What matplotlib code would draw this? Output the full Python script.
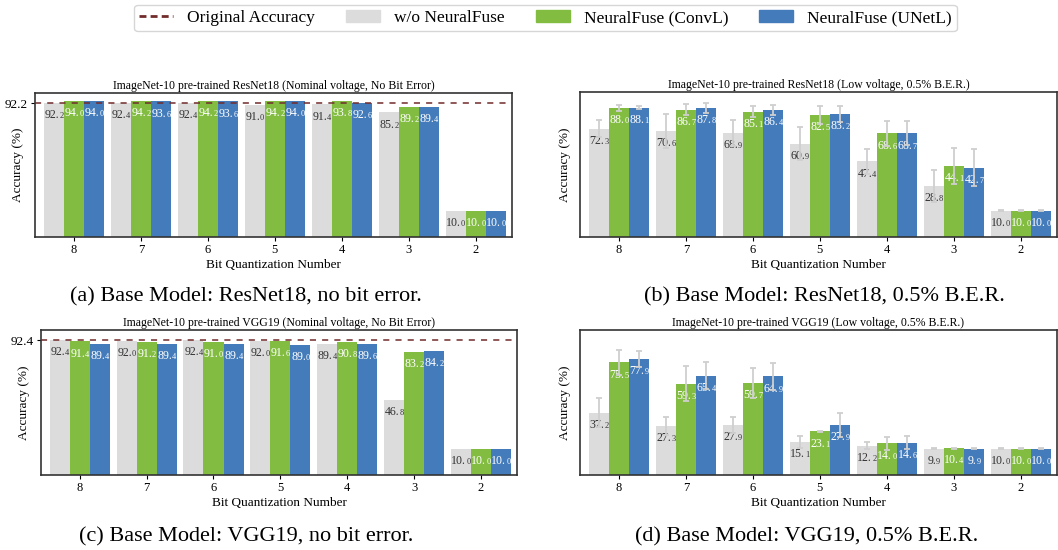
import matplotlib
matplotlib.use("Agg")
import matplotlib.pyplot as plt
import numpy as np
from matplotlib.lines import Line2D
from matplotlib.patches import Patch

plt.rcParams['font.family'] = ['Liberation Serif', 'DejaVu Serif']

bits = ['8', '7', '6', '5', '4', '3', '2']

# (a) ResNet18, nominal voltage
a_wo = [92.2, 92.4, 92.4, 91.0, 91.4, 85.2, 10.0]
a_conv = [94.0, 94.2, 94.2, 94.2, 93.8, 89.2, 10.0]
a_unet = [94.0, 93.6, 93.6, 94.0, 92.6, 89.4, 10.0]
a_orig = 92.2

# (b) ResNet18, 0.5% B.E.R.
b_wo = [72.3, 70.6, 68.9, 60.9, 47.4, 28.8, 10.0]
b_conv = [88.0, 86.7, 85.1, 82.5, 68.6, 44.1, 10.0]
b_unet = [88.1, 87.8, 86.4, 83.2, 68.7, 42.7, 10.0]
b_wo_err = [6.5, 13.0, 10.0, 12.5, 9.5, 12.0, 0.2]
b_conv_err = [2.3, 4.2, 4.3, 7.0, 9.6, 13.6, 0.2]
b_unet_err = [1.3, 3.8, 4.0, 6.0, 9.0, 14.0, 0.2]

# (c) VGG19, nominal voltage
c_wo = [92.4, 92.0, 92.4, 92.0, 89.4, 46.8, 10.0]
c_conv = [91.4, 91.2, 91.0, 91.6, 90.8, 83.2, 10.0]
c_unet = [89.4, 89.4, 89.4, 89.0, 89.6, 84.2, 10.0]
c_orig = 92.4

# (d) VGG19, 0.5% B.E.R.
d_wo = [37.2, 27.3, 27.9, 15.1, 12.2, 9.9, 10.0]
d_conv = [75.5, 59.3, 59.7, 23.1, 14.0, 10.4, 10.0]
d_unet = [77.9, 65.4, 64.9, 27.9, 14.6, 9.9, 10.0]
d_wo_err = [11.0, 6.6, 6.3, 4.3, 2.8, 0.3, 0.2]
d_conv_err = [9.3, 13.4, 11.6, 0.6, 4.8, 0.4, 0.2]
d_unet_err = [5.8, 10.3, 10.3, 8.8, 5.0, 0.4, 0.2]

GRAY = '#dcdcdc'
GREEN = '#82bd41'
BLUE = '#437bbb'
RED = '#722b2b'
YMIN, YMAX = -10, 100
W, H = 1058, 550
FS_MAIN, FS_DEC = 8.6, 6.0


def label_bar(ax, x, v, color):
    # value drawn as "92." plus a smaller last digit, centred on the bar
    s = '%.1f' % v
    main, dec = s[:-1], s[-1]
    main_w = FS_MAIN * 0.5 * (len(main) - 1) + FS_MAIN * 0.25
    dec_w = FS_DEC * 0.5
    off = -(main_w + dec_w) / 2 + main_w
    ax.annotate(main, (x, v), xytext=(off, -11), textcoords='offset points',
                ha='right', va='baseline', fontsize=FS_MAIN, color=color)
    ax.annotate(dec, (x, v), xytext=(off, -11), textcoords='offset points',
                ha='left', va='baseline', fontsize=FS_DEC, color=color)


def draw_panel(rect, title, wo, conv, unet, ylab_x, orig=None, errs=None):
    ax = fig.add_axes([rect[0] / W, 1 - rect[3] / H,
                       (rect[2] - rect[0]) / W, (rect[3] - rect[1]) / H])
    x = np.arange(len(bits))
    bw = 0.3
    series = [(wo, GRAY, -bw, '#333333'), (conv, GREEN, 0, 'white'),
              (unet, BLUE, bw, 'white')]
    for i, (vals, col, dx, tcol) in enumerate(series):
        vals = np.array(vals)
        ax.bar(x + dx, vals - YMIN, bw, bottom=YMIN, color=col, zorder=2)
        if errs is not None:
            ax.errorbar(x + dx, vals, yerr=errs[i], fmt='none', ecolor='#cfcfcf',
                        elinewidth=1.3, capsize=2.5, capthick=1.3, zorder=4)
        for xi, v in zip(x + dx, vals):
            label_bar(ax, xi, v, tcol)
    if orig is not None:
        ax.axhline(orig, color=RED, ls=(0, (4, 4)), lw=1.1, zorder=3)
        ax.set_yticks([orig])
        ax.set_yticklabels(['%.1f' % orig], fontsize=9.5)
    else:
        ax.set_yticks([])
    ax.set_ylim(YMIN, YMAX)
    ax.set_xlim(-0.58, len(bits) - 0.46)
    ax.set_xticks(x)
    ax.set_xticklabels(bits, fontsize=9)
    ax.tick_params(length=3, width=0.8, pad=2)
    ax.set_xlabel('Bit Quantization Number', fontsize=9.5, labelpad=2)
    ax.set_ylabel('Accuracy (%)', fontsize=9.5)
    ax.yaxis.set_label_coords((ylab_x + 6 - rect[0]) / (rect[2] - rect[0]), 0.5)
    ax.set_title(title, fontsize=8.5, pad=3)
    for sp in ax.spines.values():
        sp.set_color('#333333')
        sp.set_linewidth(1.2)
    return ax


fig = plt.figure(figsize=(W / 100, H / 100), dpi=100)

draw_panel((35, 93, 512, 237),
           'ImageNet-10 pre-trained ResNet18 (Nominal voltage, No Bit Error)',
           a_wo, a_conv, a_unet, 18, orig=a_orig)
draw_panel((580, 92, 1057, 237),
           'ImageNet-10 pre-trained ResNet18 (Low voltage, 0.5% B.E.R.)',
           b_wo, b_conv, b_unet, 565, errs=[b_wo_err, b_conv_err, b_unet_err])
draw_panel((41, 330, 517, 475),
           'ImageNet-10 pre-trained VGG19 (Nominal voltage, No Bit Error)',
           c_wo, c_conv, c_unet, 24, orig=c_orig)
draw_panel((580, 330, 1057, 475),
           'ImageNet-10 pre-trained VGG19 (Low voltage, 0.5% B.E.R.)',
           d_wo, d_conv, d_unet, 565, errs=[d_wo_err, d_conv_err, d_unet_err])

captions = [(246, 297, '(a) Base Model: ResNet18, no bit error.'),
            (824, 297, '(b) Base Model: ResNet18, 0.5% B.E.R.'),
            (246, 537, '(c) Base Model: VGG19, no bit error.'),
            (807, 537, '(d) Base Model: VGG19, 0.5% B.E.R.')]
for cx, cy, txt in captions:
    fig.text(cx / W, 1 - cy / H, txt, ha='center', va='center', fontsize=16)

handles = [Line2D([0], [0], color=RED, ls=(0, (2.5, 1.5)), lw=2),
           Patch(color=GRAY), Patch(color=GREEN), Patch(color=BLUE)]
labels = ['Original Accuracy', 'w/o NeuralFuse', 'NeuralFuse (ConvL)',
          'NeuralFuse (UNetL)']
leg = fig.legend(handles, labels, loc='center', bbox_to_anchor=(545.5 / W, 1 - 18 / H),
                 ncol=4, fontsize=12.5, frameon=True, handlelength=1.95,
                 handleheight=0.7, handletextpad=0.8, columnspacing=1.8,
                 borderpad=0.3, borderaxespad=0)
leg.get_frame().set_edgecolor('#cccccc')

fig.savefig('out.png', dpi=100)
